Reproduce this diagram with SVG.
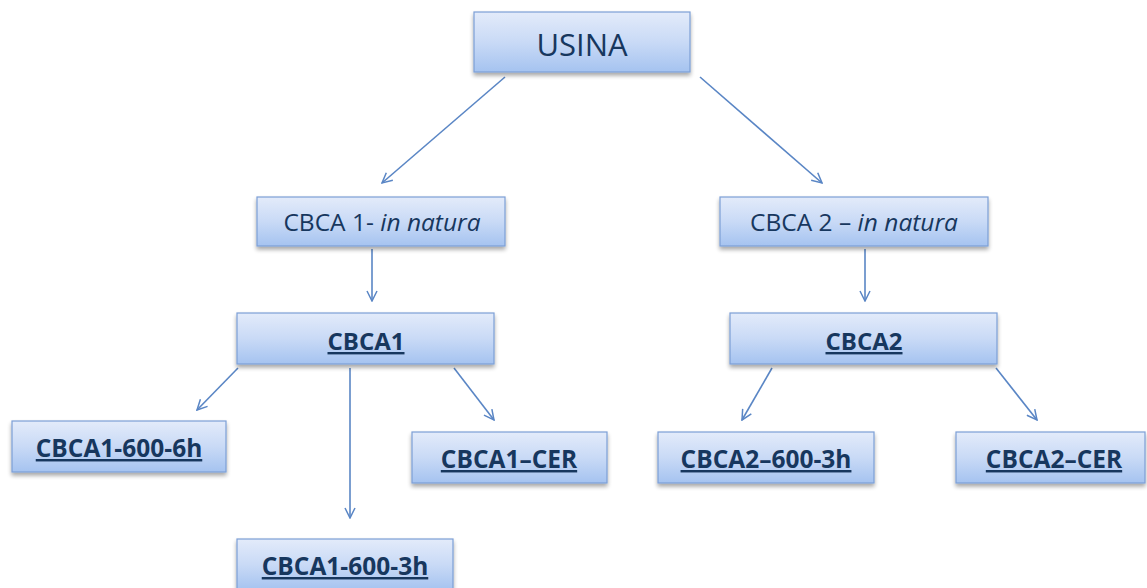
<svg xmlns="http://www.w3.org/2000/svg" width="1147" height="588" viewBox="0 0 1147 588">
<defs>
<linearGradient id="g" x1="0" y1="0" x2="0" y2="1">
<stop offset="0" stop-color="#e3ebfa"/>
<stop offset="0.5" stop-color="#c9daf6"/>
<stop offset="1" stop-color="#a5c3f0"/>
</linearGradient>
<filter id="sh" x="-10%" y="-10%" width="120%" height="140%">
<feGaussianBlur in="SourceAlpha" stdDeviation="2"/>
<feOffset dx="0" dy="3" result="b"/>
<feComponentTransfer><feFuncA type="linear" slope="0.35"/></feComponentTransfer>
<feMerge><feMergeNode/><feMergeNode in="SourceGraphic"/></feMerge>
</filter>
<marker id="ah" viewBox="0 0 12 12" refX="11" refY="6" markerWidth="12" markerHeight="12" markerUnits="userSpaceOnUse" orient="auto">
<path d="M1,1 L11,6 L1,11" fill="none" stroke="#5a86c5" stroke-width="1.5"/>
</marker>
</defs>
<style>
.box{fill:url(#g);stroke:#7c9fd6;stroke-width:1.2;filter:url(#sh)}
.t{font-family:"Open Sans","Liberation Sans",sans-serif;fill:#17375e;text-anchor:middle}
.b{font-weight:bold;text-decoration:underline}
.c line{stroke:#5a86c5;stroke-width:1.6;marker-end:url(#ah)}
</style>
<rect width="1147" height="588" fill="#ffffff"/>
<g class="c" id="connectors">
<line x1="505" y1="77" x2="382" y2="183"/>
<line x1="700" y1="77" x2="822" y2="183"/>
<line x1="372" y1="249" x2="372" y2="301"/>
<line x1="238" y1="368" x2="197" y2="410"/>
<line x1="350" y1="368" x2="350" y2="518"/>
<line x1="454" y1="368" x2="494" y2="420"/>
<line x1="865" y1="249" x2="865" y2="301"/>
<line x1="772" y1="368" x2="742" y2="420"/>
<line x1="996" y1="368" x2="1037" y2="420"/>
</g>
<g id="usina"><rect class="box" x="474" y="12" width="216" height="60"/><text class="t" x="582" y="56" font-size="31">USINA</text></g>
<g id="cbca1n"><rect class="box" x="257" y="197" width="248" height="49"/><text class="t" x="382" y="231" font-size="24.5">CBCA 1- <tspan font-style="italic">in natura</tspan></text></g>
<g id="cbca2n"><rect class="box" x="720" y="197" width="268" height="49"/><text class="t" x="854" y="231" font-size="24.5">CBCA 2 – <tspan font-style="italic">in natura</tspan></text></g>
<g id="cbca1"><rect class="box" x="237" y="313" width="257" height="51"/><text class="t b" x="366" y="350" font-size="24">CBCA1</text></g>
<g id="cbca2"><rect class="box" x="730" y="313" width="267" height="51"/><text class="t b" x="864" y="350" font-size="24">CBCA2</text></g>
<g id="cbca1_6h"><rect class="box" x="12" y="421" width="214" height="51"/><text class="t b" x="119" y="457" font-size="24.5">CBCA1-600-6h</text></g>
<g id="cbca1_cer"><rect class="box" x="412" y="432" width="195" height="51"/><text class="t b" x="509" y="468" font-size="24.5">CBCA1–CER</text></g>
<g id="cbca2_3h"><rect class="box" x="658" y="432" width="216" height="51"/><text class="t b" x="766" y="468" font-size="24.5">CBCA2–600-3h</text></g>
<g id="cbca2_cer"><rect class="box" x="956" y="432" width="189" height="51"/><text class="t b" x="1054" y="468" font-size="24.5">CBCA2–CER</text></g>
<g id="cbca1_3h"><rect class="box" x="237" y="539" width="216" height="51"/><text class="t b" x="345" y="575" font-size="24.5">CBCA1-600-3h</text></g>
</svg>
